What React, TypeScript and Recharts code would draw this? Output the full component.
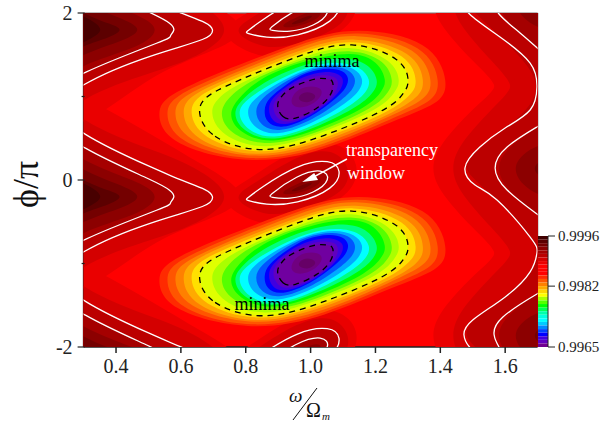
import React from 'react';
import { ScatterChart, Scatter, XAxis, YAxis, ReferenceLine, ReferenceArea } from 'recharts';

type Pt = [number, number];
const FONT = '"Liberation Serif", "Times New Roman", serif';

const omegaTicks = [0.4, 0.6, 0.8, 1.0, 1.2, 1.4, 1.6];
const phiTicks = [-2, -1, 0, 1, 2];
const scaleTicks = [0.9965, 0.9982, 0.9996];

// outlines are [omega, phi - centre of the repeating feature]; the map repeats every 2 in phi/pi
const leftCentres = [1.8, -0.2, -2.2];
const midCentres = [2, 0, -2];
const rightCentres = [2.14, 0.14, -1.86];
const blobCentres = [1, -0.99];

const darkColors = ['#ea0000', '#d40000', '#bb0000', '#a50000', '#8c0000', '#740000', '#5c0000', '#480000'];

const leftLevels: Pt[][] = [
  [[.196, 1.04], [.351, 1.04], [.505, .742], [.659, .383], [.79, 0], [.659, -.299], [.505, -.575], [.351, -.958], [.196, -.958]],
  [[.196, 1.0], [.301, .862], [.505, .563], [.628, .36], [.74, 0], [.628, -.335], [.505, -.515], [.301, -.778], [.196, -.9]],
  [[.196, .84], [.301, .707], [.505, .359], [.597, .204], [.674, .084], [.692, 0], [.668, -.12], [.505, -.311], [.301, -.611], [.196, -.72]],
  [[.196, .68], [.301, .551], [.505, .204], [.56, .084], [.578, 0], [.56, -.084], [.536, -.144], [.301, -.479], [.196, -.563]],
  [[.196, .56], [.301, .407], [.443, .204], [.52, 0], [.443, -.228], [.301, -.395], [.196, -.52]],
  [[.196, .42], [.301, .299], [.40, .15], [.468, 0], [.40, -.15], [.301, -.275], [.196, -.4]],
  [[.196, .32], [.301, .18], [.37, .08], [.412, 0], [.37, -.1], [.301, -.18], [.196, -.3]],
  [[.196, .25], [.301, .144], [.351, 0], [.301, -.132], [.196, -.25]],
];

const midLevels: Pt[][] = [
  [[.736, -.24], [.813, 0], [.958, .359], [1.075, .419], [1.137, .18], [1.106, -.18], [.958, -.455], [.844, -.503]],
  [[.776, -.216], [.838, -.024], [.958, .263], [1.06, .335], [1.112, .12], [1.085, -.156], [.958, -.359], [.859, -.395]],
  [[.81, -.21], [.853, -.084], [.958, .156], [1.051, .216], [1.085, .10], [1.06, -.096], [.958, -.263], [.866, -.287], [.81, -.24]],
  [[.884, -.16], [.958, .036], [1.029, .108], [1.051, 0], [1.007, -.144], [.937, -.216], [.884, -.2]],
  [[.915, -.144], [.967, -.036], [1.017, .036], [1.029, -.024], [.998, -.108], [.943, -.168]],
  [[.943, -.12], [.983, -.048], [1.004, -.036], [.989, -.084], [.955, -.132]],
];

const rightLevels: Pt[][] = [
  [[1.55, 1.1], [1.584, .98], [1.50, .72], [1.40, .3], [1.368, 0], [1.40, -.3], [1.50, -.72], [1.584, -1.02], [1.55, -1.14], [1.9, -1.14], [1.9, 1.1]],
  [[1.60, 1.1], [1.631, .98], [1.56, .72], [1.46, .3], [1.43, 0], [1.46, -.3], [1.56, -.72], [1.631, -1.02], [1.60, -1.14], [1.9, -1.14], [1.9, 1.1]],
  [[1.69, 1.15], [1.70, .97], [1.677, .695], [1.522, .251], [1.486, .12], [1.476, 0], [1.50, -.12], [1.575, -.383], [1.677, -.78], [1.70, -1.02], [1.69, -1.17], [1.9, -1.17], [1.9, 1.15]],
  [[1.9, .75], [1.77, .68], [1.698, .491], [1.606, .251], [1.569, 0], [1.606, -.263], [1.698, -.551], [1.77, -.72], [1.9, -.8]],
  [[1.9, .45], [1.72, .32], [1.65, .17], [1.624, 0], [1.65, -.2], [1.72, -.37], [1.9, -.5]],
  [[1.9, .25], [1.72, .14], [1.677, 0], [1.72, -.16], [1.9, -.28]],
];

const rightOuterWave: Pt[] = [[1.46, 2.19], [1.49, 1.988], [1.584, 1.713], [1.677, 1.401], [1.698, 1.114], [1.677, .838], [1.60, .623], [1.522, .395], [1.476, .144], [1.507, -.06], [1.575, -.24], [1.677, -.683], [1.698, -.874], [1.677, -1.10], [1.60, -1.40], [1.50, -1.677], [1.473, -1.856], [1.49, -2.0], [1.52, -2.096]];
const rightInnerTop: Pt[] = [[1.569, 2.14], [1.581, 1.988], [1.646, 1.76], [1.723, 1.497]];
const rightInnerMid: Pt[] = [[1.723, .695], [1.698, .635], [1.606, .395], [1.569, .144], [1.606, -.12], [1.698, -.407], [1.723, -.479]];
const rightInnerLow: Pt[] = [[1.723, -1.317], [1.698, -1.365], [1.593, -1.641], [1.566, -1.856], [1.581, -2], [1.6, -2.12]];

const blobColors = ['#ff2a00', '#ff5500', '#ff8000', '#ffaa00', '#ffe000', '#e0ff00', '#aaff00', '#55ff00', '#00ff00', '#00ff80', '#00ffff', '#00aaff', '#0055ff', '#0000ff', '#4000e0', '#6000c0', '#7000a0', '#700080', '#660066'];

const blobOuter: Pt[] = [[.541, -.20], [.587, -.54], [.813, -.76], [1.039, -.62], [1.245, -.30], [1.379, -.08], [1.410, .18], [1.348, .62], [1.142, .78], [.968, .64], [.731, .30], [.577, .02]];
const blobDashedOuter: Pt[] = [[.662, -.20], [.705, -.47], [.855, -.64], [1.039, -.46], [1.225, -.16], [1.281, .04], [1.297, .18], [1.266, .44], [1.122, .62], [.968, .48], [.762, .16], [.680, -.02]];
const blobDashedInner: Pt[] = [[.899, -.12], [.916, -.24], [.952, -.26], [1.019, -.14], [1.055, -.01], [1.068, .10], [1.065, .19], [1.045, .21], [1.014, .21], [.962, .14], [.926, .06], [.906, -.03]];

const blobLevels: Pt[][] = [
  blobOuter,
  [[.565, -.20], [.611, -.53], [.821, -.74], [1.039, -.59], [1.241, -.27], [1.359, -.06], [1.387, .18], [1.332, .58], [1.138, .75], [.968, .61], [.737, .27], [.598, .01]],
  [[.589, -.20], [.634, -.51], [.830, -.71], [1.039, -.56], [1.237, -.24], [1.340, -.03], [1.365, .18], [1.315, .55], [1.134, .72], [.968, .58], [.743, .24], [.618, 0]],
  [[.614, -.20], [.658, -.50], [.838, -.69], [1.039, -.52], [1.233, -.22], [1.320, -.01], [1.342, .18], [1.299, .51], [1.130, .68], [.968, .54], [.750, .22], [.639, 0]],
  [[.638, -.20], [.681, -.48], [.847, -.66], [1.039, -.49], [1.229, -.19], [1.301, .02], [1.320, .18], [1.282, .48], [1.126, .65], [.968, .51], [.756, .19], [.659, -.01]],
  blobDashedOuter,
  [[.700, -.20], [.738, -.45], [.867, -.60], [1.035, -.42], [1.200, -.15], [1.254, .05], [1.269, .19], [1.239, .42], [1.122, .58], [.976, .46], [.799, .18], [.721, -.02]],
  [[.729, -.21], [.763, -.43], [.876, -.56], [1.032, -.40], [1.182, -.14], [1.234, .05], [1.248, .19], [1.219, .41], [1.122, .54], [.982, .44], [.827, .20], [.752, -.02]],
  [[.757, -.21], [.788, -.41], [.885, -.53], [1.029, -.37], [1.163, -.13], [1.214, .06], [1.227, .20], [1.199, .40], [1.122, .51], [.988, .42], [.855, .22], [.783, -.02]],
  [[.770, -.205], [.80, -.40], [.89, -.505], [1.024, -.345], [1.142, -.115], [1.191, .06], [1.202, .20], [1.173, .37], [1.10, .455], [.988, .38], [.87, .19], [.795, -.03]],
  [[.783, -.20], [.813, -.39], [.896, -.48], [1.019, -.32], [1.122, -.10], [1.168, .06], [1.178, .20], [1.148, .34], [1.081, .40], [.988, .34], [.885, .16], [.808, -.04]],
  [[.809, -.187], [.832, -.36], [.903, -.44], [1.012, -.293], [1.105, -.08], [1.147, .073], [1.157, .207], [1.131, .327], [1.072, .377], [.988, .32], [.899, .153], [.83, -.033]],
  [[.834, -.173], [.851, -.33], [.909, -.40], [1.005, -.267], [1.087, -.06], [1.127, .087], [1.135, .213], [1.113, .313], [1.064, .353], [.988, .30], [.912, .147], [.853, -.027]],
  [[.860, -.16], [.870, -.30], [.916, -.36], [.998, -.24], [1.070, -.04], [1.106, .10], [1.114, .22], [1.096, .30], [1.055, .33], [.988, .28], [.926, .14], [.875, -.02]],
  [[.873, -.147], [.885, -.28], [.928, -.327], [1.005, -.207], [1.065, -.03], [1.093, .10], [1.098, .21], [1.079, .27], [1.041, .29], [.979, .233], [.926, .113], [.885, -.023]],
  [[.886, -.133], [.901, -.26], [.94, -.293], [1.012, -.173], [1.06, -.02], [1.081, .10], [1.081, .20], [1.062, .24], [1.028, .25], [.971, .187], [.926, .087], [.896, -.027]],
  blobDashedInner,
  [[.942, -.08], [.968, -.13], [1.009, -.08], [1.034, .04], [1.019, .11], [.983, .11], [.952, .04]],
  [[.965, -.04], [.99, -.07], [1.01, -.03], [1.012, .02], [.99, .05], [.97, .02]],
];

const arrowShaft: Pt[] = [[1.112, .251], [.99, -.005]];
const arrowHead: Pt[] = [[.974, -.024], [1.011, .084], [1.023, 0]];

const notes = [
  { x: 1.066, y: 1.353, text: 'minima', fill: '#000', anchor: 'middle' },
  { x: .85, y: -1.557, text: 'minima', fill: '#000', anchor: 'middle' },
  { x: 1.109, y: .287, text: 'transparency', fill: '#fff', anchor: 'start' },
  { x: 1.112, y: .012, text: 'window', fill: '#fff', anchor: 'start' },
];

const scaleColors = ['#400000', '#5c0000', '#740000', '#8c0000', '#a50000', '#bb0000', '#d40000', '#ea0000', '#ff0000', '#ff0000', '#ff0000', '#ff2a00', '#ff5500', '#ff8000', '#ffaa00', '#ffd400', '#ffff00', '#aaff00', '#55ff00', '#00ff00', '#00ff55', '#00ffaa', '#00ffdd', '#00ffff', '#00ccff', '#0088ff', '#0044ff', '#0000ff', '#4000e0', '#6000c0', '#700090'];

const place = (pts: Pt[], phi0: number) => pts.map(([w, d]) => ({ x: w, y: d + phi0 }));
// a closed B-spline rounds off inside its control points: push each control point out so the curve runs through the value read
const through = (pts: Pt[]): Pt[] =>
  pts.map((p, i) => {
    const a = pts[(i + pts.length - 1) % pts.length];
    const b = pts[(i + 1) % pts.length];
    return [p[0] + 0.4 * (p[0] - (a[0] + b[0]) / 2), p[1] + 0.4 * (p[1] - (a[1] + b[1]) / 2)] as Pt;
  });
const noMark = () => null;

function Fill(key: string, pts: { x: number; y: number }[], color: string) {
  return (
    <Scatter key={key} data={pts} isAnimationActive={false} shape={noMark} line={{ fill: color, stroke: 'none' }} lineJointType="basisClosed" />
  );
}
function Stroke(key: string, pts: { x: number; y: number }[], joint: string, color = '#fff', dash?: string, w = 1.3) {
  return (
    <Scatter key={key} data={pts} isAnimationActive={false} shape={noMark} line={{ fill: 'none', stroke: color, strokeWidth: w, strokeDasharray: dash }} lineJointType={joint as any} />
  );
}

const NoteText = (p: any) => (
  <text x={p.cx} y={p.cy} fontFamily={FONT} fontSize={18} fill={p.payload.fill} textAnchor={p.payload.anchor}>{p.payload.text}</text>
);

const PhiTick = (p: any) => {
  const major = Number.isInteger(p.payload.value / 2);
  const edge = p.x + 9;
  return (
    <g>
      <line x1={edge - (major ? 7 : 3)} x2={edge} y1={p.y} y2={p.y} stroke="#222" strokeWidth={1.2} />
      {major && <text x={p.x - 3} y={p.y + 7} textAnchor="end" fontFamily={FONT} fontSize={20} fill="#222">{p.payload.value}</text>}
    </g>
  );
};

export default function App() {
  const dark: React.ReactNode[] = [];
  darkColors.forEach((c, i) => {
    leftCentres.forEach((p0) => leftLevels[i] && dark.push(Fill(`l${i}${p0}`, place(through(leftLevels[i]), p0), c)));
    midCentres.forEach((p0) => midLevels[i] && dark.push(Fill(`m${i}${p0}`, place(through(midLevels[i]), p0), c)));
    rightCentres.forEach((p0) => rightLevels[i] && dark.push(Fill(`r${i}${p0}`, place(rightLevels[i], p0), c)));
  });
  const blobs: React.ReactNode[] = [];
  blobCentres.forEach((p0) => blobLevels.forEach((lvl, i) => blobs.push(Fill(`b${i}${p0}`, place(through(lvl), p0), blobColors[i]))));
  const white: React.ReactNode[] = [];
  leftCentres.forEach((p0) => [2, 3].forEach((i) => white.push(Stroke(`wl${i}${p0}`, place(through(leftLevels[i]), p0), 'basisClosed'))));
  midCentres.forEach((p0) => [2, 3].forEach((i) => white.push(Stroke(`wm${i}${p0}`, place(through(midLevels[i]), p0), 'basisClosed'))));
  [rightOuterWave, rightInnerTop, rightInnerMid, rightInnerLow].forEach((c, i) => white.push(Stroke(`wr${i}`, place(c, 0), 'natural')));
  const dashed: React.ReactNode[] = [];
  blobCentres.forEach((p0) => [blobDashedOuter, blobDashedInner].forEach((c, i) => dashed.push(Stroke(`d${i}${p0}`, place(through(c), p0), 'basisClosed', '#000', '6 5', 1.3))));

  return (
    <div style={{ position: 'absolute', left: 0, top: 0, width: 613, height: 421 }}>
      <ScatterChart width={613} height={421} margin={{ top: 13, right: 75.4, bottom: 0, left: 0 }}>
        <XAxis type="number" dataKey="x" domain={[0.3, 1.7]} allowDataOverflow ticks={omegaTicks} tickFormatter={(v: number) => v.toFixed(1)} height={74} stroke="#222" strokeWidth={1.5} tickSize={6} tickMargin={6} tick={{ fontFamily: FONT, fontSize: 20, fill: '#222' }} />
        <YAxis type="number" dataKey="y" domain={[-2, 2]} allowDataOverflow ticks={phiTicks} width={83.6} stroke="#222" strokeWidth={1.5} tickLine={false} tick={<PhiTick />} interval={0} />
        <ReferenceArea x1={0.3} x2={1.7} y1={-2} y2={2} fill="#ff0000" fillOpacity={1} stroke="none" />
        {dark}
        {blobs}
        {white}
        {dashed}
        {Stroke('shaft', place(arrowShaft, 0), 'linear', '#fff', undefined, 1.6)}
        <Scatter data={place(arrowHead, 0)} isAnimationActive={false} shape={noMark} line={{ fill: '#fff', stroke: 'none' }} lineJointType="linearClosed" />
        <Scatter data={notes} isAnimationActive={false} shape={NoteText} />
        <ReferenceLine y={2} stroke="#777" strokeWidth={1.2} />
        <ReferenceLine x={1.7} stroke="#333" strokeWidth={1.2} />
      </ScatterChart>

      <div style={{ position: 'absolute', left: 538, top: 226 }}>
        <ScatterChart width={75} height={131} margin={{ top: 10, right: 0, bottom: 10, left: 0 }}>
          <XAxis type="number" dataKey="x" domain={[0, 1]} hide />
          <YAxis type="number" dataKey="y" orientation="right" domain={[0.9965, 0.9996]} allowDataOverflow ticks={scaleTicks} width={65} interval={0} stroke="#222" tickSize={7} tickMargin={3} tickFormatter={(v: number) => v.toFixed(4)} tick={{ fontFamily: FONT, fontSize: 15, fill: '#222' }} />
          {scaleColors.map((c, i) => (
            <ReferenceArea key={i} x1={0} x2={1} y1={0.9996 - (i + 1) * 0.0001} y2={0.9996 - i * 0.0001} fill={c} fillOpacity={1} stroke="none" />
          ))}
          <Scatter data={[{ x: 0, y: 0.9996 }]} isAnimationActive={false} shape={noMark} />
        </ScatterChart>
      </div>

      <svg width={613} height={421} style={{ position: 'absolute', left: 0, top: 0, pointerEvents: 'none' }}>
        <text transform="translate(38,208) rotate(-90)" fontFamily={FONT} fontSize={36} fill="#111">ϕ/π</text>
        <text x={289} y={402} fontFamily={FONT} fontStyle="italic" fontSize={19} fill="#111">ω</text>
        <line x1={317} y1={388} x2={293} y2={420} stroke="#111" strokeWidth={1} />
        <text x={306} y={417} fontFamily={FONT} fontSize={20} fill="#111">Ω</text>
        <text x={322} y={420} fontFamily={FONT} fontStyle="italic" fontSize={11} fill="#111">m</text>
      </svg>
    </div>
  );
}
